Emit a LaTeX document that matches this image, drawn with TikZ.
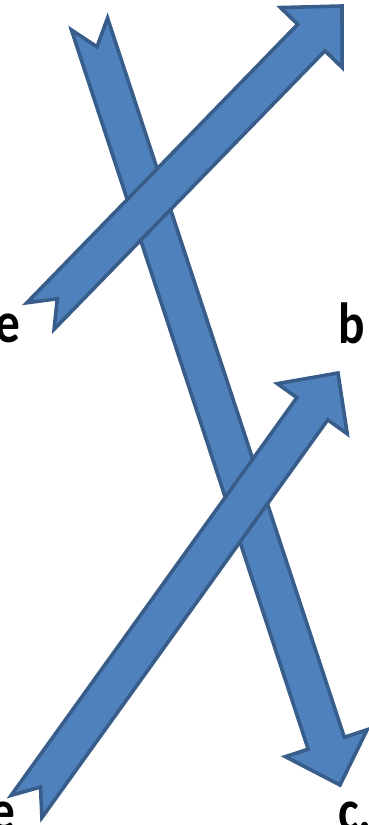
\documentclass[tikz,border=0pt]{standalone}
\usepackage{fontspec}
\setmainfont{Carlito}
\usetikzlibrary{calc}
\definecolor{arrowfill}{HTML}{4F81BD}
\definecolor{arrowline}{HTML}{385D8A}
\tikzset{
  blockarrow/.style={fill=arrowfill, draw=arrowline, line width=3.6pt, line join=miter},
  lbl/.style={inner sep=0pt, xscale=0.85, font=\fontsize{58}{70}\selectfont\bfseries}
}
\newcommand{\blockarr}[2]{%
  \draw[blockarrow]
    ($(#1)!19pt!90:(#2)$) --
    ($($(#2)!44pt!(#1)$)!19pt!-90:(#1)$) --
    ($($(#2)!44pt!(#1)$)!43pt!-90:(#1)$) --
    (#2) --
    ($($(#2)!44pt!(#1)$)!43pt!90:(#1)$) --
    ($($(#2)!44pt!(#1)$)!19pt!90:(#1)$) --
    ($(#1)!19pt!-90:(#2)$) --
    ($(#1)!24pt!(#2)$) -- cycle;}
\begin{document}
\begin{tikzpicture}[x=1pt,y=-1pt]
\useasboundingbox (0,0) rectangle (369,825);
\clip (0,0) rectangle (369,825);
\coordinate (t1) at (89.5,24);
\coordinate (p1) at (340,785);
\coordinate (t2) at (40.5,316);
\coordinate (p2) at (342,6);
\coordinate (t3) at (26.5,806.5);
\coordinate (p3) at (338,373);
\blockarr{t1}{p1}
\blockarr{t2}{p2}
\blockarr{t3}{p3}
\node[lbl, anchor=base east] (e1) at (20.5,342) {e};
\node[lbl, anchor=base west] (b) at (338.5,343) {b};
\node[lbl, anchor=base east] (e2) at (15.5,830) {e};
\node[lbl, anchor=base west] (c) at (338,830) {c.};
\end{tikzpicture}
\end{document}
